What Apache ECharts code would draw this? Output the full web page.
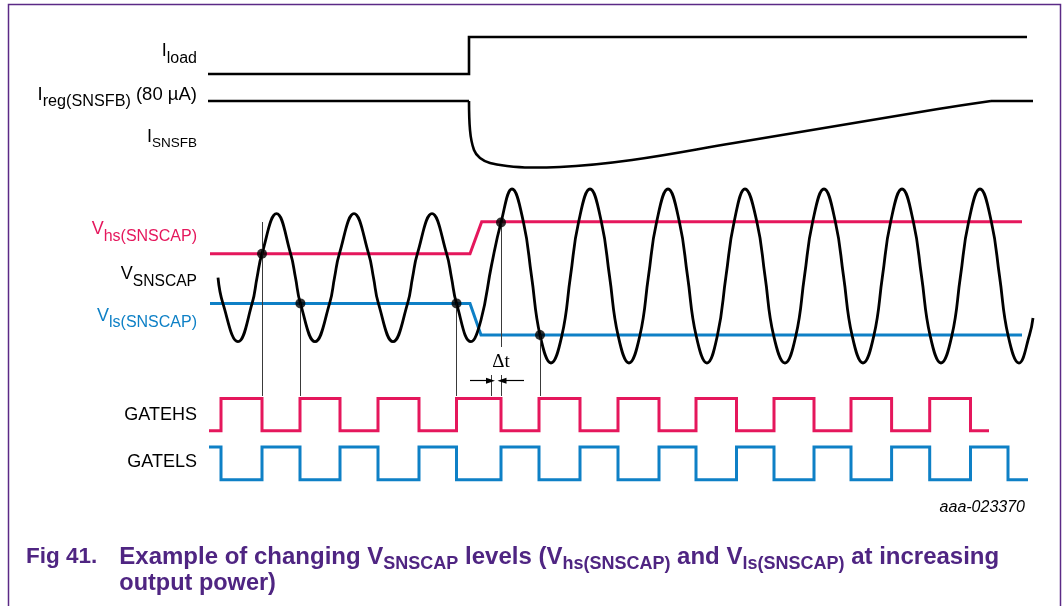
<!DOCTYPE html>
<html>
<head>
<meta charset="utf-8">
<script src="https://cdn.jsdelivr.net/npm/echarts@6/dist/echarts.min.js"></script>
<style>
  html, body { margin: 0; padding: 0; background: #fff; }
  #chart { width: 1063px; height: 606px; }
</style>
</head>
<body>
<div id="chart"></div>
<script>
// Timing diagram: time runs along x (arbitrary ticks), level along y (arbitrary, bottom-up).

// I_load: step up when the load is applied
const iloadTime  = [208, 469, 469, 1027];
const iloadLevel = [532, 532, 569, 569];

// I_SNSFB: regulated level, sudden dip, slow recovery back to I_reg
const isnsfbFlatTime  = [208, 469];
const isnsfbFlatLevel = [505, 505];
const isnsfbDipTime  = [469, 470, 474, 480, 490, 507, 530, 560, 632, 734, 836, 938, 991];
const isnsfbDipLevel = [505, 476, 456, 448, 443, 440, 438.5, 439, 446, 463, 480, 497, 505];
const isnsfbEndTime  = [991, 1033];
const isnsfbEndLevel = [505, 505];

// Comparator thresholds
const vhsTime  = [210, 470, 481.7, 1022];
const vhsLevel = [352.3, 352.3, 384.3, 384.3];
const vlsTime  = [210, 470, 481, 1022];
const vlsLevel = [302.6, 302.6, 271, 271];

// V_SNSCAP oscillation: peaks, troughs, mid crossings and threshold crossings
const vsnsTime = [
  218, 222.9, 238, 252.1, 257, 262, 276.5, 290.6, 295.5, 300.4, 315, 329.6, 334.5, 339.4, 354,
  368.6, 373.5, 378.4, 393, 407.6, 412.5, 417.4, 432, 446.6, 451.5, 456.5, 471,
  481, 491.5, 501, 512,
  523.5, 531.5, 540, 551, 562, 570.5, 578.5, 590, 601.5, 609.5, 618, 629, 640, 648.5, 656.5, 668,
  679.5, 687.5, 696, 707, 717.5, 726, 734, 745, 757, 765, 773.5, 785, 796, 804.5, 812.5, 824,
  835.5, 843.5, 852, 863, 874, 882.5, 890.5, 902, 913.5, 921.5, 930, 941, 952, 960.5, 968.5, 980,
  991.5, 999.5, 1008, 1019, 1029.5, 1033];
const vsnsLevel = [
  328.3, 302.6, 264.3, 302.6, 328.3, 352.3, 392.3, 352.3, 328.3, 302.6, 264.3, 302.6, 328.3, 352.3, 392.3,
  352.3, 328.3, 302.6, 264.3, 302.6, 328.3, 352.3, 392.3, 352.3, 328.3, 302.6, 264.3,
  286, 340.6, 383.5, 417,
  383.5, 330, 271, 243, 271, 330, 383.5, 417, 383.5, 330, 271, 243, 271, 330, 383.5, 417,
  383.5, 330, 271, 243, 271, 330, 383.5, 417, 383.5, 330, 271, 243, 271, 330, 383.5, 417,
  383.5, 330, 271, 243, 271, 330, 383.5, 417, 383.5, 330, 271, 243, 271, 330, 383.5, 417,
  383.5, 330, 271, 243, 271, 288];

// Threshold crossings that switch the gates
const crossTime  = [262, 300.4, 456.5, 501, 540];
const crossLevel = [352.3, 302.6, 302.6, 383.5, 271];

// Guide lines dropped from the crossings to the gate traces
const guideTime   = [262, 300.4, 456.5, 501, 540, 491, 501.5];
const guideTop    = [384, 302.6, 302.6, 383.5, 271, 231, 231];
const guideBottom = [210, 210, 210, 259, 210, 210, 210];

// Dead-time arrows
const arrowFrom  = [470, 524];
const arrowTo    = [490.5, 502];
const arrowLevel = 225.3;

// Gate drive edges
const gateEdges = [221, 262, 300, 340, 378, 419, 456.5, 501, 539, 580, 618, 659, 696, 736.5,
                   774, 814, 851, 891.6, 929.7, 970.5];
const gatelsExtraEdges = [1008];
const gatehsSpan = [209, 989];
const gatelsSpan = [209, 1028];
const gatehsLevels = [175.3, 207.4];
const gatelsLevels = [126.3, 159];

const FONT = "'Liberation Sans', Arial, Helvetica, sans-serif";
const PINK = '#e5175c';
const BLUE = '#0e80c6';
const INK = '#000000';
const PURPLE = '#4f2582';

function pairs(t, v) { return t.map((x, i) => [x, v[i]]); }

function gateTrace(span, edges, startHigh, levels) {
  let high = startHigh;
  const lvl = () => (high ? levels[1] : levels[0]);
  const pts = [[span[0], lvl()]];
  edges.forEach(t => { pts.push([t, lvl()]); high = !high; pts.push([t, lvl()]); });
  pts.push([span[1], lvl()]);
  return pts;
}

function trace(data, color, width, extra) {
  return Object.assign({
    type: 'line', data, symbol: 'none', silent: true, animation: false,
    lineStyle: { color, width, cap: 'butt', join: 'miter' },
    itemStyle: { color }, emphasis: { disabled: true }, z: 2
  }, extra || {});
}

function tok(size, color, extra) {
  return Object.assign({ fontFamily: FONT, fontSize: size, fill: color, color }, extra || {});
}

// Right-aligned signal name with an optional subscript and trailing text
function sigLabel(main, sub, rest, y, color, mainSize, subSize, restSize) {
  let text = '{m|' + main + '}';
  if (sub) text += '{s|' + sub + '}';
  if (rest) text += '{r|' + rest + '}';
  return {
    type: 'text', x: 197, y, silent: true,
    style: {
      text, textAlign: 'right', align: 'right', textVerticalAlign: 'middle', verticalAlign: 'middle',
      rich: {
        m: tok(mainSize, color),
        s: tok(subSize || mainSize, color, { padding: [14, 0, 0, 0] }),
        r: tok(restSize || mainSize, color)
      }
    }
  };
}

const guideLines = guideTime.map((t, i) => [{ coord: [t, guideTop[i]] }, { coord: [t, guideBottom[i]] }]);
const arrowLines = arrowFrom.map((t, i) => [{ coord: [t, arrowLevel] }, { coord: [arrowTo[i], arrowLevel] }]);

const chart = echarts.init(document.getElementById('chart'), null, { renderer: 'canvas' });
chart.setOption({
  backgroundColor: '#ffffff',
  animation: false,
  grid: { left: 0, right: 0, top: 0, bottom: 0 },
  xAxis: { type: 'value', min: 0, max: 1063, show: false },
  yAxis: { type: 'value', min: 0, max: 606, show: false },
  series: [
    trace(pairs(iloadTime, iloadLevel), INK, 2.6),
    trace(pairs(isnsfbFlatTime, isnsfbFlatLevel), INK, 2.6),
    trace(pairs(isnsfbDipTime, isnsfbDipLevel), INK, 2.6, { smooth: 0.4 }),
    trace(pairs(isnsfbEndTime, isnsfbEndLevel), INK, 2.6),
    trace(pairs(vhsTime, vhsLevel), PINK, 3),
    trace(pairs(vlsTime, vlsLevel), BLUE, 3),
    trace(pairs(vsnsTime, vsnsLevel), INK, 2.8, { smooth: 0.45, z: 3 }),
    trace(gateTrace(gatehsSpan, gateEdges, false, gatehsLevels), PINK, 3),
    trace(gateTrace(gatelsSpan, gateEdges.concat(gatelsExtraEdges), true, gatelsLevels), BLUE, 3),
    {
      type: 'scatter', data: pairs(crossTime, crossLevel), symbol: 'circle', symbolSize: 10,
      itemStyle: { color: INK }, silent: true, animation: false, z: 5,
      markLine: {
        silent: true, animation: false, symbol: 'none', label: { show: false },
        lineStyle: { color: '#3a3a3a', width: 1, type: 'solid' },
        emphasis: { disabled: true },
        data: guideLines
      }
    },
    {
      type: 'line', data: [], silent: true, animation: false,
      markLine: {
        silent: true, animation: false, symbol: ['none', 'triangle'], symbolSize: [6, 9],
        label: { show: false },
        lineStyle: { color: INK, width: 1.2, type: 'solid' },
        emphasis: { disabled: true },
        data: arrowLines
      }
    }
  ],
  graphic: [
    { type: 'rect', silent: true, shape: { x: 8.5, y: 4.5, width: 1052, height: 700 },
      style: { fill: 'none', stroke: '#5b2a86', lineWidth: 1.5 } },
    sigLabel('I', 'load', '', 51.5, INK, 18, 16),
    sigLabel('I', 'reg(SNSFB)', ' (80 µA)', 94.5, INK, 18.5, 16.2, 18.5),
    sigLabel('I', 'SNSFB', '', 136.7, INK, 18, 13.5),
    sigLabel('V', 'hs(SNSCAP)', '', 229.5, PINK, 18, 16),
    sigLabel('V', 'SNSCAP', '', 274.5, INK, 18, 15.6),
    sigLabel('V', 'ls(SNSCAP)', '', 315.8, BLUE, 18, 16),
    sigLabel('GATEHS', '', '', 415.5, INK, 18),
    sigLabel('GATELS', '', '', 462.5, INK, 18),
    { type: 'text', x: 501, y: 362.5, silent: true,
      style: { text: 'Δt', font: "19px 'Liberation Serif', 'Times New Roman', serif", fill: INK,
               textAlign: 'center', align: 'center', textVerticalAlign: 'middle', verticalAlign: 'middle' } },
    { type: 'text', x: 1025, y: 507.5, silent: true,
      style: { text: 'aaa-023370', font: "italic 16px " + FONT, fill: INK,
               textAlign: 'right', align: 'right', textVerticalAlign: 'middle', verticalAlign: 'middle' } },
    { type: 'text', x: 26, y: 557, silent: true,
      style: { text: 'Fig 41.', font: "bold 22.5px " + FONT, fill: PURPLE,
               textAlign: 'left', align: 'left', textVerticalAlign: 'middle', verticalAlign: 'middle' } },
    { type: 'text', x: 119.3, y: 557, silent: true,
      style: {
        text: '{b|Example of changing V}{s|SNSCAP}{b| levels (V}{s|hs(SNSCAP)}{b| and V}{s|ls(SNSCAP)}{b| at increasing}',
        textAlign: 'left', align: 'left', textVerticalAlign: 'middle', verticalAlign: 'middle',
        rich: {
          b: tok(24, PURPLE, { fontWeight: 'bold' }),
          s: tok(18, PURPLE, { fontWeight: 'bold', padding: [14, 0, 0, 0] })
        }
      } },
    { type: 'text', x: 119.3, y: 583.5, silent: true,
      style: { text: 'output power)', font: "bold 23.5px " + FONT, fill: PURPLE,
               textAlign: 'left', align: 'left', textVerticalAlign: 'middle', verticalAlign: 'middle' } }
  ]
});
</script>
</body>
</html>
